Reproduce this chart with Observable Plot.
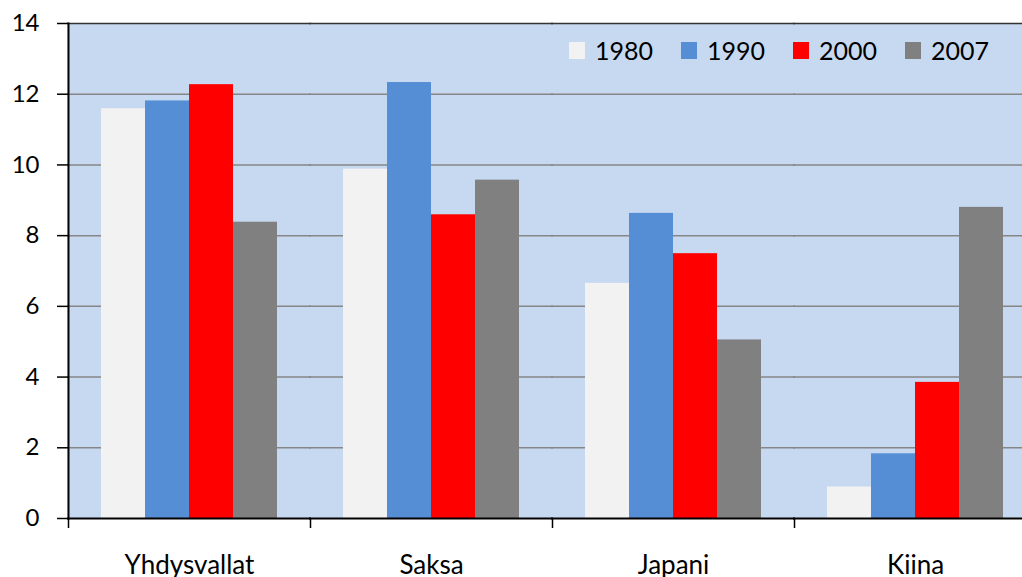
<!DOCTYPE html>
<html>
<head>
<meta charset="utf-8">
<script src="https://cdn.jsdelivr.net/npm/d3@7"></script>
<script src="https://cdn.jsdelivr.net/npm/@observablehq/plot@0.6"></script>
<style>
  html, body { margin: 0; padding: 0; background: white; overflow: hidden; }
  #wrap { position: relative; width: 1022px; height: 577px; }
  #legend { position: absolute; left: 569px; top: 36px; display: flex; align-items: center;
    font-family: Lato, sans-serif; font-size: 25px; color: black; line-height: 28px; }
  #legend .item { display: flex; align-items: center; margin-right: 28px; }
  #legend .sw { width: 16px; height: 17px; margin-right: 10px; }
</style>
</head>
<body>
<div id="wrap"><div id="legend"></div></div>
<script>
const countries = ["Yhdysvallat", "Saksa", "Japani", "Kiina"];
const years = ["1980", "1990", "2000", "2007"];
const v1980 = [11.59, 9.88, 6.65, 0.89];
const v1990 = [11.81, 12.33, 8.63, 1.83];
const v2000 = [12.27, 8.59, 7.49, 3.85];
const v2007 = [8.38, 9.57, 5.05, 8.80];
const yTicks = [0, 2, 4, 6, 8, 10, 12, 14];
const colors = ["#F2F2F2", "#558ED5", "#FF0000", "#808080"];

const series = [v1980, v1990, v2000, v2007];
const data = countries.flatMap((c, i) => years.map((y, j) => ({country: c, year: y, value: series[j][i]})));

const chart = Plot.plot({
  width: 1022,
  height: 577,
  marginLeft: 68,
  marginRight: -14,
  marginTop: 23,
  marginBottom: 59,
  style: {fontFamily: "Lato, sans-serif", fontSize: "24px", color: "black", background: "white"},
  fx: {domain: countries, padding: 0, label: null},
  x: {domain: years, paddingInner: 0, paddingOuter: 0.75, axis: null},
  y: {domain: [0, 14], label: null},
  color: {domain: years, range: colors},
  marks: [
    Plot.frame({fill: "#C6D9F1", stroke: null, insetLeft: -1, insetRight: -1}),
    Plot.gridY([2, 4, 6, 8, 10, 12], {stroke: "#868686", strokeOpacity: 1, strokeWidth: 1.5, insetLeft: -1, insetRight: -1}),
    Plot.barY(data, {fx: "country", x: "year", y: "value", fill: "year"}),
    Plot.ruleY([14], {stroke: "#333333", strokeWidth: 1.5, insetLeft: -1, insetRight: -1}),
    Plot.ruleY([0], {stroke: "black", strokeWidth: 2, insetLeft: -1, insetRight: -1}),
    Plot.frame({anchor: "left", facetAnchor: "left", stroke: "black", strokeWidth: 2}),
    Plot.axisY(yTicks, {tickSize: 11, tickPadding: 18, fontSize: 24, stroke: "black", strokeWidth: 1.5, label: null}),
    Plot.axisFx({anchor: "bottom", tickSize: 10, text: null, dx: -121, stroke: "black", strokeWidth: 1.5, label: null}),
    Plot.axisFx({anchor: "bottom", tickSize: 0, tickPadding: 37, fontSize: 26, label: null})
  ]
});
document.getElementById("wrap").prepend(chart);

const legend = document.getElementById("legend");
years.forEach((y, i) => {
  const item = document.createElement("div");
  item.className = "item";
  const sw = document.createElement("div");
  sw.className = "sw";
  sw.style.background = colors[i];
  const t = document.createElement("span");
  t.textContent = y;
  item.append(sw, t);
  legend.append(item);
});
</script>
</body>
</html>
